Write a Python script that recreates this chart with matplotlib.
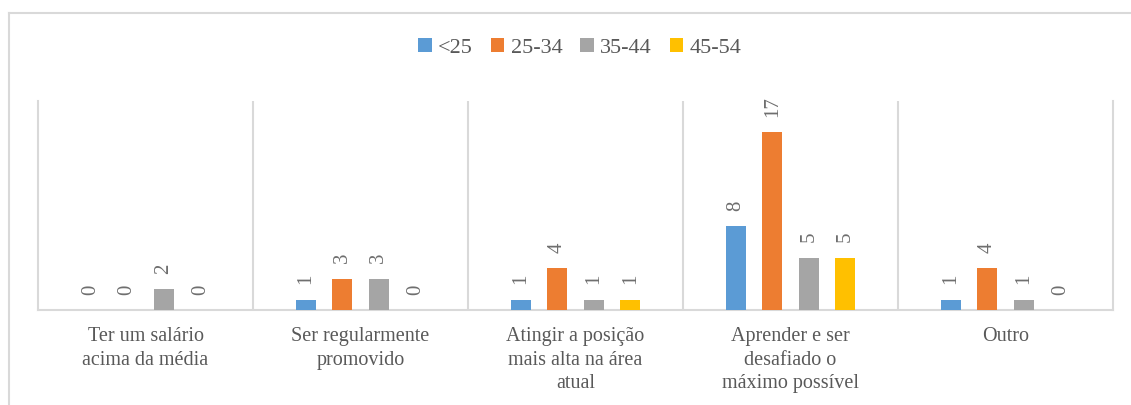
import numpy as np
import matplotlib
matplotlib.use("Agg")
import matplotlib.pyplot as plt
from matplotlib.lines import Line2D

plt.rcParams['font.family'] = ['Liberation Serif', 'DejaVu Serif']

# dados
categorias = ["Ter um salário\nacima da média",
              "Ser regularmente\npromovido",
              "Atingir a posição\nmais alta na área\natual",
              "Aprender e ser\ndesafiado o\nmáximo possível",
              "Outro"]
faixas = ["<25", "25-34", "35-44", "45-54"]
menos_25 = [0, 1, 1, 8, 1]
de_25_34 = [0, 3, 4, 17, 4]
de_35_44 = [2, 3, 1, 5, 1]
de_45_54 = [0, 0, 1, 5, 0]
series = [menos_25, de_25_34, de_35_44, de_45_54]

cores = ['#5B9BD5', '#ED7D31', '#A5A5A5', '#FFC000']
cinza_linha = '#D9D9D9'
cinza_texto = '#595959'

fig = plt.figure(figsize=(11.31, 4.05), dpi=100)
ax = fig.add_axes([38 / 1131, 95 / 405, (1113 - 38) / 1131, 209 / 405])

x = np.arange(len(categorias))
passo = 0.17
largura = 0.093
for k, (nome, vals) in enumerate(zip(faixas, series)):
    pos = x + (k - 1.5) * passo
    ax.bar(pos, vals, width=largura, color=cores[k], label=nome, zorder=3)
    # rótulos de dados girados
    for xi, v in zip(pos, vals):
        ax.annotate(str(v), (xi, v), xytext=(0, 11), textcoords='offset points',
                    ha='center', va='bottom', rotation=90, fontsize=15,
                    color='#6E6E6E')

ax.set_xlim(-0.5, len(categorias) - 0.5)
ax.set_ylim(0, 20)
ax.set_yticks([])
ax.set_xticks(x)
ax.set_xticklabels(categorias, fontsize=14.5, color=cinza_texto, linespacing=1.35)
ax.tick_params(axis='x', length=0, pad=12)

# separadores entre categorias
ax.vlines(x[:-1] + 0.5, 0, 20, color=cinza_linha, linewidth=1.5, zorder=1)
ax.spines['top'].set_visible(False)
for s in ['left', 'right', 'bottom']:
    ax.spines[s].set_color(cinza_linha)
    ax.spines[s].set_linewidth(1.5)

# legenda
leg = ax.legend(loc='center', ncol=4, frameon=False, fontsize=16,
                handlelength=0.6, handleheight=0.6, handletextpad=0.3,
                columnspacing=0.8,
                bbox_to_anchor=(580 / 1131, (405 - 48) / 405),
                bbox_transform=fig.transFigure)
for t in leg.get_texts():
    t.set_color(cinza_texto)

# moldura externa
fig.add_artist(Line2D([8.5 / 1131, 8.5 / 1131], [0, (405 - 13) / 405],
                      color=cinza_linha, linewidth=1.5))
fig.add_artist(Line2D([8.5 / 1131, 1], [(405 - 13) / 405, (405 - 13) / 405],
                      color=cinza_linha, linewidth=1.5))

fig.savefig("out.png", dpi=100)
